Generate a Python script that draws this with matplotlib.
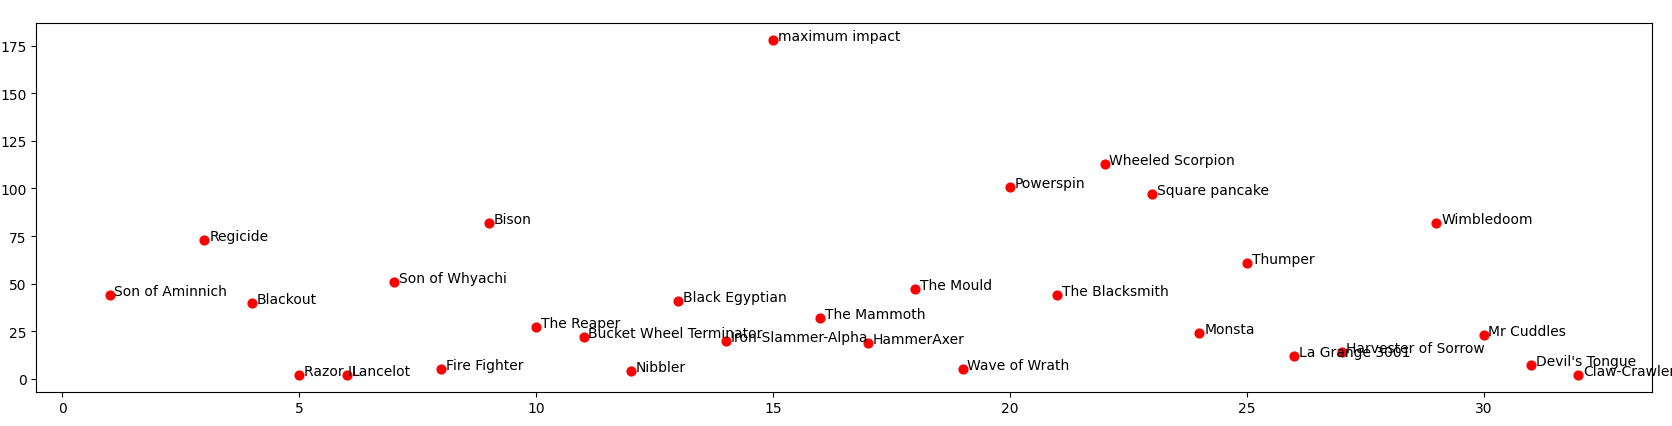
import matplotlib
matplotlib.use('Agg')
import matplotlib.pyplot as plt

names = ['Son of Aminnich', 'Regicide', 'Blackout', 'Razor II', 'Lancelot',
         'Son of Whyachi', 'Fire Fighter', 'Bison', 'The Reaper',
         'Bucket Wheel Terminator', 'Nibbler', 'Black Egyptian',
         'Iron-Slammer-Alpha', 'maximum impact', 'The Mammoth', 'HammerAxer',
         'The Mould', 'Wave of Wrath', 'Powerspin', 'The Blacksmith',
         'Wheeled Scorpion', 'Square pancake', 'Monsta', 'Thumper',
         'La Grange 3001', 'Harvester of Sorrow', 'Wimbledoom', 'Mr Cuddles',
         "Devil's Tongue", 'Claw-Crawler']
ranks = [1, 3, 4, 5, 6, 7, 8, 9, 10, 11, 12, 13, 14, 15, 16, 17, 18, 19, 20,
         21, 22, 23, 24, 25, 26, 27, 29, 30, 31, 32]
scores = [44, 73, 40, 2, 2, 51, 5, 82, 27, 22, 4, 41, 20, 178, 32, 19, 47, 5,
          101, 44, 113, 97, 24, 61, 12, 14, 82, 23, 7, 2]

fig = plt.figure(figsize=(16.72, 4.27), dpi=100)
ax = fig.add_axes([0.0217, 0.0803, 0.9663, 0.8628])
ax.scatter(ranks, scores, c='red', s=40)
for x, y, name in zip(ranks, scores, names):
    ax.text(x + 0.1, y, name, fontsize=10)

plt.savefig('out.png')
